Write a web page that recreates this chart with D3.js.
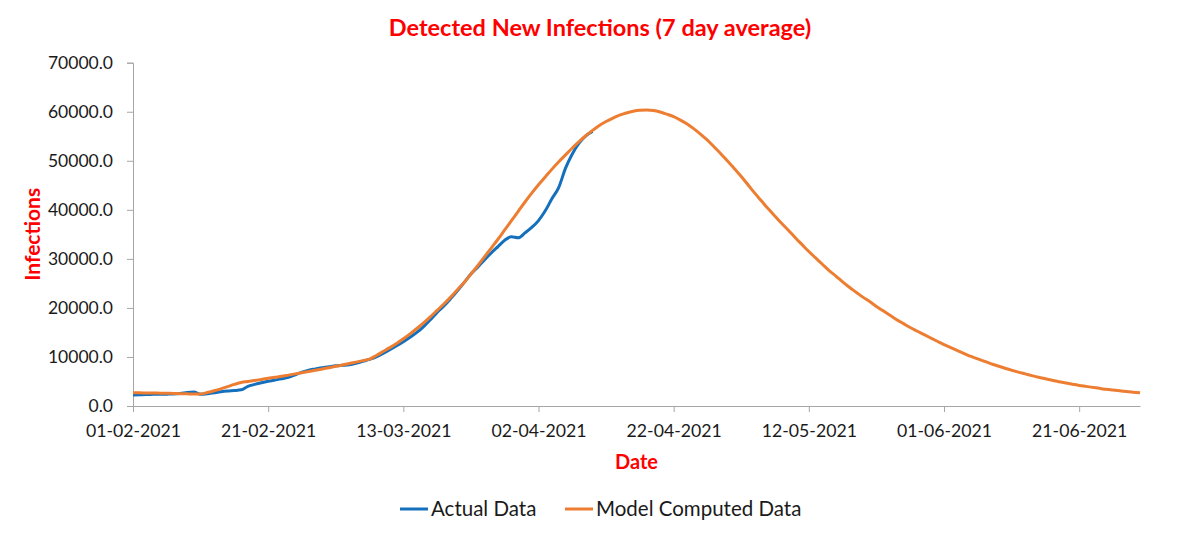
<!DOCTYPE html>
<html>
<head>
<meta charset="utf-8">
<script src="https://cdn.jsdelivr.net/npm/d3@7"></script>
<style>
  html, body { margin: 0; padding: 0; background: #fff; }
  svg { display: block; }
  text { font-family: Lato, "Open Sans", sans-serif; }
</style>
</head>
<body>
<svg id="chart" width="1200" height="536"></svg>
<script>
// ---- Data ----
const startDate = "2021-02-01";
const dayCount = 150; // 01-02-2021 .. 30-06-2021
const xTickLabels = ["01-02-2021", "21-02-2021", "13-03-2021", "02-04-2021", "22-04-2021", "12-05-2021", "01-06-2021", "21-06-2021"];
const yTicks = [0, 10000, 20000, 30000, 40000, 50000, 60000, 70000];

const actualData = [
  2250, 2300, 2350, 2380, 2400, 2420, 2450, 2550, 2750, 2850,
  2400, 2500, 2700, 2900, 3050, 3150, 3300, 4000, 4400, 4750,
  5050, 5300, 5550, 5850, 6350, 6900, 7300, 7550, 7800, 8000,
  8200, 8300, 8400, 8700, 9100, 9500, 10000, 10700, 11500, 12300,
  13100, 14000, 15000, 16200, 17600, 19100, 20400, 21900, 23500, 25200,
  26900, 28300, 29800, 31200, 32500, 33800, 34500, 34300, 35300, 36400,
  37800, 39800, 42300, 44600, 48500, 51400, 53600, 55100, 56000
];

const modelData = [
  2700, 2680, 2660, 2640, 2620, 2600, 2560, 2520, 2480, 2450,
  2450, 2750, 3100, 3500, 3950, 4400, 4800, 5000, 5200, 5420,
  5640, 5850, 6050, 6300, 6550, 6800, 7050, 7300, 7550, 7800,
  8100, 8350, 8650, 8950, 9250, 9550, 10300, 11100, 11900, 12750,
  13700, 14700, 15800, 16950, 18200, 19500, 20800, 22200, 23700, 25200,
  26900, 28600, 30400, 32200, 34000, 35900, 37800, 39700, 41600, 43400,
  45100, 46700, 48300, 49800, 51200, 52600, 53900, 55100, 56200, 57200,
  58000, 58700, 59300, 59750, 60100, 60300, 60350, 60250, 59950, 59500,
  59000, 58300, 57500, 56500, 55400, 54200, 52800, 51400, 49900, 48400,
  46800, 45100, 43400, 41800, 40200, 38700, 37200, 35800, 34300, 32900,
  31500, 30200, 28900, 27600, 26500, 25300, 24200, 23200, 22200, 21300,
  20300, 19400, 18500, 17600, 16800, 16000, 15300, 14600, 13900, 13200,
  12500, 11900, 11300, 10700, 10100, 9600, 9100, 8600, 8150, 7700,
  7300, 6900, 6550, 6200, 5850, 5550, 5250, 4950, 4700, 4450,
  4200, 4000, 3800, 3600, 3400, 3250, 3100, 2950, 2800, 2680
];

// ---- Chart ----
const svg = d3.select("#chart");
const margin = { left: 133, right: 1140, top: 62.7, bottom: 406 };

const parse = d3.utcParse("%Y-%m-%d");
const fmt = d3.utcFormat("%d-%m-%Y");
const t0 = parse(startDate);
const dates = d3.range(dayCount).map(i => d3.utcDay.offset(t0, i));

const x = d3.scaleUtc().domain([dates[0], dates[dates.length - 1]]).range([margin.left, margin.right]);
const y = d3.scaleLinear().domain([0, 70000]).range([margin.bottom, margin.top]);

const axisColor = "#a6a6a6";
const labelColor = "#1a1a1a";

// Y axis
const yAxis = svg.append("g")
  .attr("transform", `translate(${margin.left},0)`)
  .call(d3.axisLeft(y).tickValues(yTicks).tickFormat(d3.format(".1f")).tickSize(6).tickPadding(14));
yAxis.select(".domain").attr("stroke", axisColor).attr("stroke-width", 1);
yAxis.selectAll(".tick line").attr("stroke", axisColor);
yAxis.selectAll(".tick text").attr("fill", labelColor).style("font-size", "17.5px").style("font-family", "Lato, sans-serif");

// X axis
const xTickDates = xTickLabels.map(s => d3.utcParse("%d-%m-%Y")(s));
const xAxis = svg.append("g")
  .attr("transform", `translate(0,${margin.bottom})`)
  .call(d3.axisBottom(x).tickValues(xTickDates).tickFormat(fmt).tickSize(6).tickSizeOuter(0).tickPadding(12));
xAxis.select(".domain").attr("stroke", axisColor).attr("stroke-width", 1);
xAxis.selectAll(".tick line").attr("stroke", axisColor);
xAxis.selectAll(".tick text").attr("fill", labelColor).style("font-size", "17.7px").style("font-family", "Lato, sans-serif");

// Lines
const line = d3.line()
  .x((d, i) => x(dates[i]))
  .y(d => y(d))
  .curve(d3.curveMonotoneX);

const blue = "#1470bd";
const orange = "#ed7d31";

svg.append("path")
  .datum(actualData)
  .attr("fill", "none")
  .attr("stroke", blue)
  .attr("stroke-width", 3)
  .attr("stroke-linejoin", "round")
  .attr("d", line);

svg.append("path")
  .datum(modelData)
  .attr("fill", "none")
  .attr("stroke", orange)
  .attr("stroke-width", 3)
  .attr("stroke-linejoin", "round")
  .attr("d", line);

// Title
svg.append("text")
  .attr("x", 600).attr("y", 36)
  .attr("text-anchor", "middle")
  .attr("fill", "#ff0000")
  .style("font-weight", "bold")
  .style("font-size", "23.5px")
  .text("Detected New Infections (7 day average)");

// Axis titles
svg.append("text")
  .attr("x", (margin.left + margin.right) / 2).attr("y", 469)
  .attr("text-anchor", "middle")
  .attr("fill", "#ff0000")
  .style("font-weight", "bold")
  .style("font-size", "20px")
  .text("Date");

svg.append("text")
  .attr("transform", `translate(40,${(margin.top + margin.bottom) / 2}) rotate(-90)`)
  .attr("text-anchor", "middle")
  .attr("fill", "#ff0000")
  .style("font-weight", "bold")
  .style("font-size", "21px")
  .text("Infections");

// Legend
const legendItems = [
  { label: "Actual Data", color: blue, x: 400 },
  { label: "Model Computed Data", color: orange, x: 565 }
];
const lg = svg.append("g");
legendItems.forEach(it => {
  lg.append("line")
    .attr("x1", it.x).attr("x2", it.x + 28)
    .attr("y1", 509).attr("y2", 509)
    .attr("stroke", it.color).attr("stroke-width", 3);
  lg.append("text")
    .attr("x", it.x + 31).attr("y", 516)
    .attr("fill", labelColor)
    .style("font-size", "20.5px")
    .text(it.label);
});
</script>
</body>
</html>
